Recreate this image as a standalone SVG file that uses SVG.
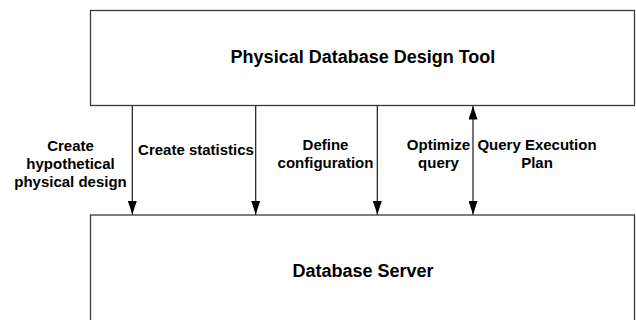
<svg xmlns="http://www.w3.org/2000/svg" width="636" height="320" viewBox="0 0 636 320">
  <style>
    .box { fill: #ffffff; stroke: #3a3a3a; stroke-width: 1.3; }
    .title { font-family: "Liberation Sans", Arial, sans-serif; font-weight: bold; font-size: 18px; fill: #000; text-anchor: middle; }
    .lbl { font-family: "Liberation Sans", Arial, sans-serif; font-weight: bold; font-size: 15px; fill: #000; text-anchor: middle; }
    .conn { stroke: #1a1a1a; stroke-width: 1.2; fill: none; }
  </style>
  <defs>
    <marker id="ah" markerUnits="userSpaceOnUse" markerWidth="14" markerHeight="9" viewBox="0 0 14 9" refX="13.5" refY="4.5" orient="auto-start-reverse">
      <path d="M0,0 L13.5,4.5 L0,9 z" fill="#000"/>
    </marker>
  </defs>
  <rect width="636" height="320" fill="#ffffff"/>
  <g id="tool">
    <rect class="box" x="90.5" y="10.5" width="544" height="95"/>
    <text class="title" x="363" y="63">Physical Database Design Tool</text>
  </g>
  <g id="server">
    <rect class="box" x="90.5" y="215" width="544" height="120"/>
    <text class="title" x="363" y="277">Database Server</text>
  </g>
  <g id="connectors">
    <line class="conn" x1="132.3" y1="106" x2="132.3" y2="214.5" marker-end="url(#ah)"/>
    <line class="conn" x1="255.7" y1="106" x2="255.7" y2="214.5" marker-end="url(#ah)"/>
    <line class="conn" x1="377.3" y1="106" x2="377.3" y2="214.5" marker-end="url(#ah)"/>
    <line class="conn" x1="473" y1="106" x2="473" y2="214.5" marker-start="url(#ah)" marker-end="url(#ah)"/>
  </g>
  <g id="labels">
    <text class="lbl" x="70.5" y="151">Create</text>
    <text class="lbl" x="70.5" y="169">hypothetical</text>
    <text class="lbl" x="70.5" y="187">physical design</text>
    <text class="lbl" x="196" y="155">Create statistics</text>
    <text class="lbl" x="325.5" y="150">Define</text>
    <text class="lbl" x="325.5" y="168">configuration</text>
    <text class="lbl" x="438.5" y="150">Optimize</text>
    <text class="lbl" x="438.5" y="168">query</text>
    <text class="lbl" x="537" y="150">Query Execution</text>
    <text class="lbl" x="537" y="168">Plan</text>
  </g>
</svg>
